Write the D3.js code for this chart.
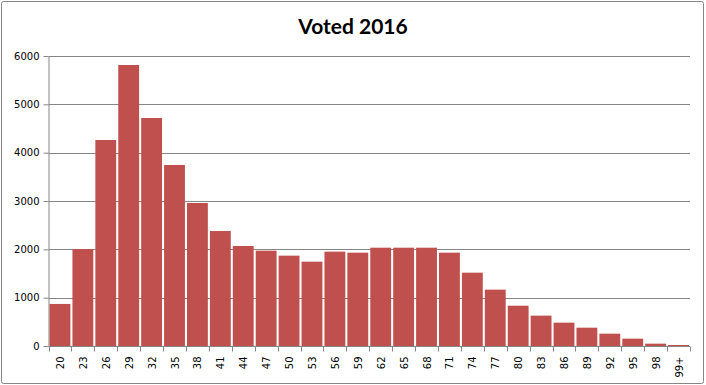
<!DOCTYPE html>
<html>
<head>
<meta charset="utf-8">
<script src="https://cdn.jsdelivr.net/npm/d3@7"></script>
<style>
  body { margin: 0; background: #fff; }
  svg { display: block; }
</style>
</head>
<body>
<div id="chart"></div>
<script>
// Data
const ages = ["20", "23", "26", "29", "32", "35", "38", "41", "44", "47", "50", "53", "56", "59",
    "62", "65", "68", "71", "74", "77", "80", "83", "86", "89", "92", "95", "98", "99+"];
const voters = [870, 2005, 4262, 5814, 4717, 3745, 2959, 2379, 2069, 1972, 1869, 1745, 1952, 1931,
    2034, 2034, 2034, 1931, 1517, 1166, 834, 628, 483, 379, 255, 152, 48, 21];
const yTicks = [0, 1000, 2000, 3000, 4000, 5000, 6000];

const W = 706, H = 385;
const margin = { top: 56, right: 16, bottom: 39, left: 48.5 };
const gray = "#868686";

const svg = d3.select("#chart").append("svg")
    .attr("width", W)
    .attr("height", H);

// outer frame
svg.append("rect")
    .attr("x", 1.5).attr("y", 1.5)
    .attr("width", W - 4).attr("height", H - 3)
    .attr("rx", 2)
    .attr("fill", "#fff")
    .attr("stroke", gray);

svg.append("text")
    .attr("x", 353)
    .attr("y", 34)
    .attr("text-anchor", "middle")
    .attr("font-family", "Lato, 'Open Sans', sans-serif")
    .attr("font-weight", "bold")
    .attr("font-size", 21)
    .attr("fill", "#000")
    .text("Voted 2016");

const x = d3.scaleBand()
    .domain(ages)
    .range([margin.left, W - margin.right])
    .paddingInner(0.09)
    .paddingOuter(0.045);

const y = d3.scaleLinear()
    .domain([0, 6000])
    .range([H - margin.bottom, margin.top]);

// gridlines + y axis
const yAxis = svg.append("g")
    .attr("transform", `translate(${margin.left},0)`)
    .call(d3.axisLeft(y).tickValues(yTicks).tickFormat(d3.format("d"))
        .tickSize(5).tickSizeOuter(0).tickPadding(4));
yAxis.select(".domain").attr("stroke", gray);
yAxis.selectAll(".tick line").attr("stroke", gray);
yAxis.selectAll(".tick text")
    .attr("font-family", "'DejaVu Sans', sans-serif")
    .attr("font-size", 10)
    .attr("fill", "#000");

svg.append("g")
    .selectAll("line")
    .data(yTicks.filter(d => d > 0))
    .join("line")
    .attr("x1", margin.left)
    .attr("x2", W - margin.right)
    .attr("y1", d => Math.round(y(d)) + 0.5)
    .attr("y2", d => Math.round(y(d)) + 0.5)
    .attr("stroke", gray);

// bars
svg.append("g")
    .selectAll("rect")
    .data(voters)
    .join("rect")
    .attr("x", (d, i) => x(ages[i]))
    .attr("y", d => y(d))
    .attr("width", x.bandwidth())
    .attr("height", d => y(0) - y(d))
    .attr("fill", "#C0504D");

// x axis with ticks on category boundaries
const base = Math.round(y(0)) + 0.5;
svg.append("line")
    .attr("x1", margin.left).attr("x2", W - margin.right)
    .attr("y1", base).attr("y2", base)
    .attr("stroke", gray);

const bounds = d3.range(ages.length + 1).map(i => margin.left + i * x.step());
svg.append("g")
    .selectAll("line")
    .data(bounds)
    .join("line")
    .attr("x1", d => Math.round(d) + 0.5)
    .attr("x2", d => Math.round(d) + 0.5)
    .attr("y1", base)
    .attr("y2", base + 5)
    .attr("stroke", gray);

svg.append("g")
    .selectAll("text")
    .data(ages)
    .join("text")
    .attr("transform", d => `translate(${x(d) + x.bandwidth() / 2 + 4},${base + 10}) rotate(-90)`)
    .attr("text-anchor", "end")
    .attr("font-family", "'DejaVu Sans', sans-serif")
    .attr("font-size", 10)
    .attr("fill", "#000")
    .text(d => d);
</script>
</body>
</html>
